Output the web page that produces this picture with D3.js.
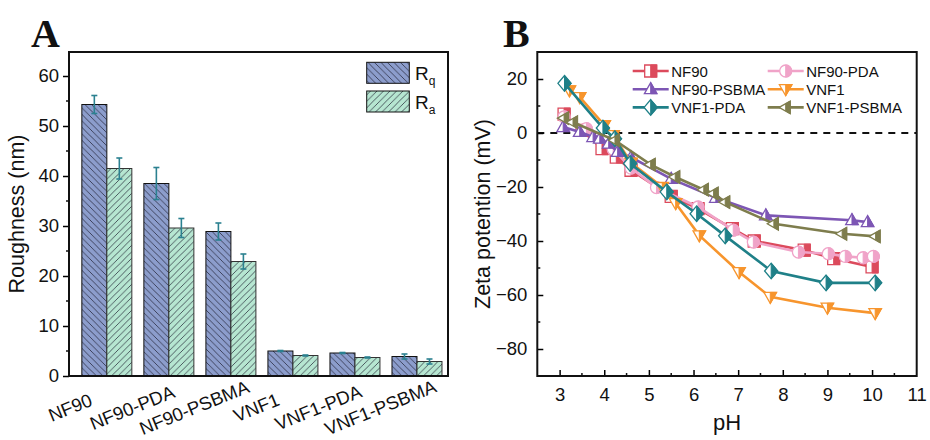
<!DOCTYPE html>
<html><head><meta charset="utf-8">
<script src="https://cdn.jsdelivr.net/npm/d3@7"></script>
<style>
html,body{margin:0;padding:0;background:#fff;}
svg{display:block;font-family:"Liberation Sans",Arial,sans-serif;}
</style></head>
<body>
<svg id="chart" width="930" height="440"></svg>
<script>
// ---------- Panel A data ----------
const categories = ["NF90","NF90-PDA","NF90-PSBMA","VNF1","VNF1-PDA","VNF1-PSBMA"];
const rqValues = [54.3, 38.5, 28.9, 5.0, 4.6, 3.9];
const rqErrors = [1.8, 3.2, 1.7, 0.1, 0.1, 0.5];
const raValues = [41.5, 29.6, 22.9, 4.1, 3.7, 2.9];
const raErrors = [2.1, 1.9, 1.5, 0.1, 0.1, 0.5];
const yTicksA = [0,10,20,30,40,50,60];

// ---------- Panel B data ----------
const seriesNames = ["NF90","NF90-PDA","NF90-PSBMA","VNF1","VNF1-PDA","VNF1-PSBMA"];
const nf90 = [[3.1,7],[3.5,1],[3.95,-5.8],[4.27,-8.9],[4.6,-13.8],[5.5,-23.5],[6.1,-28],[6.87,-35.4],[7.36,-40],[8.48,-43.4],[9.14,-46.5],[10.0,-49.6]];
const nf90pda = [[3.1,6],[3.6,1.6],[4.2,-6],[4.6,-13],[5.17,-20.2],[6.1,-27.4],[6.89,-36],[7.34,-40.4],[8.35,-44.1],[9.02,-44.7],[9.4,-45.7],[9.8,-46.2],[10.03,-45.7]];
const nf90psbma = [[3.08,2.2],[3.45,0.4],[3.75,-1.5],[3.9,-2.1],[4.1,-3.9],[4.3,-7],[4.6,-9],[5.5,-17],[6.5,-24],[7.62,-30.5],[9.55,-32.3],[9.9,-33]];
const vnf1 = [[3.22,15.8],[3.45,13.3],[4.0,2.9],[4.2,-0.8],[4.6,-11],[5.3,-20],[5.6,-26],[6.13,-37.9],[7.02,-51.5],[7.72,-60.7],[9.0,-64.7],[10.07,-66.7]];
const vnf1pda = [[3.11,18.4],[3.97,1.85],[4.24,-2.1],[4.58,-11.3],[5.4,-21.8],[6.07,-29.9],[6.71,-38.1],[7.74,-51.1],[8.97,-55.5],[10.07,-55.5]];
const vnf1psbma = [[3.1,5.5],[3.3,4],[4.24,-2.7],[5.04,-11.7],[5.59,-16.3],[6.23,-21],[6.45,-22.4],[6.71,-25.6],[7.8,-33.6],[9.33,-37.3],[10.08,-38.3]];
const seriesData = [nf90, nf90pda, nf90psbma, vnf1, vnf1pda, vnf1psbma];
const seriesColors = ["#dc4a5c","#f0a3c8","#7d56b4","#f7952d","#1f8088","#7e7d4d"];
const seriesShapes = ["square","circle","triUp","triDown","diamond","triLeft"];
const xTicksB = [3,4,5,6,7,8,9,10,11];
const yTicksB = [-80,-60,-40,-20,0,20];

const svg = d3.select("#chart");
const defs = svg.append("defs");

function hatch(id, bg, dir){
  const p = defs.append("pattern").attr("id",id).attr("patternUnits","userSpaceOnUse")
    .attr("width",6.5).attr("height",6.5);
  p.append("rect").attr("width",6.5).attr("height",6.5).attr("fill",bg);
  const s = 6.5;
  const d = dir>0 ? `M0,${s} L${s},0 M-1,1 L1,-1 M${s-1},${s+1} L${s+1},${s-1}` : `M0,0 L${s},${s} M-1,${s-1} L1,${s+1} M${s-1},-1 L${s+1},1`;
  p.append("path").attr("d",d).attr("stroke","#1a1a2a").attr("stroke-width",0.8).attr("opacity",0.85);
}
hatch("hRq","#8c9dcc",-1);
hatch("hRa","#b6e6d1",1);

// ================= PANEL A =================
const xA = d3.scaleLinear().domain([0.39, 6.5]).range([69, 448]);
const yA = d3.scaleLinear().domain([0, 64.8]).range([376, 52]);
const bw = 0.403;
const gA = svg.append("g");

categories.forEach((c,i)=>{
  const k = i+1;
  gA.append("rect").attr("x",xA(k-bw)).attr("y",yA(rqValues[i]))
    .attr("width",xA(k)-xA(k-bw)).attr("height",yA(0)-yA(rqValues[i]))
    .attr("fill","url(#hRq)").attr("stroke","#111").attr("stroke-width",1);
  gA.append("rect").attr("x",xA(k)).attr("y",yA(raValues[i]))
    .attr("width",xA(k+bw)-xA(k)).attr("height",yA(0)-yA(raValues[i]))
    .attr("fill","url(#hRa)").attr("stroke","#333").attr("stroke-width",1);
});
function errBar(cx, v, e){
  const g = gA.append("g").attr("stroke","#2b8190").attr("stroke-width",1.6);
  g.append("line").attr("x1",cx).attr("x2",cx).attr("y1",yA(v+e)).attr("y2",yA(v-e));
  g.append("line").attr("x1",cx-3).attr("x2",cx+3).attr("y1",yA(v+e)).attr("y2",yA(v+e));
  g.append("line").attr("x1",cx-3).attr("x2",cx+3).attr("y1",yA(v-e)).attr("y2",yA(v-e));
}
categories.forEach((c,i)=>{
  const k=i+1;
  errBar(xA(k-bw/2), rqValues[i], rqErrors[i]);
  errBar(xA(k+bw/2), raValues[i], raErrors[i]);
});

// axes A
const axA = gA.append("g").attr("transform",`translate(${xA.range()[0]},0)`)
  .call(d3.axisLeft(yA).tickValues(yTicksA).tickSize(6).tickPadding(4));
axA.selectAll("text").attr("font-size",18.5).attr("fill","#111");
axA.select(".domain").remove();
axA.selectAll(".tick line").attr("stroke-width",1.5);
const minorA = [5,15,25,35,45,55];
gA.append("g").selectAll("line").data(minorA).join("line")
  .attr("x1",xA.range()[0]-3).attr("x2",xA.range()[0]).attr("y1",d=>yA(d)).attr("y2",d=>yA(d))
  .attr("stroke","#111").attr("stroke-width",1.5);
gA.append("rect").attr("x",xA.range()[0]).attr("y",yA.range()[1])
  .attr("width",xA.range()[1]-xA.range()[0]).attr("height",yA.range()[0]-yA.range()[1])
  .attr("fill","none").attr("stroke","#111").attr("stroke-width",2);

// x category labels
categories.forEach((c,i)=>{
  const cx = xA(i+1)-36, cy = 409;
  gA.append("text").attr("x",cx).attr("y",cy).attr("text-anchor","middle")
    .attr("dominant-baseline","middle").attr("font-size",18.5).attr("fill","#111")
    .attr("transform",`rotate(-22,${cx},${cy})`).text(c);
});
gA.append("text").attr("transform",`translate(24,${(yA.range()[0]+yA.range()[1])/2}) rotate(-90)`)
  .attr("text-anchor","middle").attr("font-size",21.5).attr("fill","#111").text("Roughness (nm)");
svg.append("text").attr("x",31).attr("y",47).attr("font-family","Liberation Serif, Times New Roman, serif")
  .attr("font-weight","bold").attr("font-size",40).attr("fill","#111").text("A");

// legend A
const legA = [["url(#hRq)","q"],["url(#hRa)","a"]];
legA.forEach((d,i)=>{
  const y0 = 62.3 + i*28.7;
  gA.append("rect").attr("x",366.7).attr("y",y0).attr("width",42.6).attr("height",21)
    .attr("fill",d[0]).attr("stroke","#111").attr("stroke-width",1);
  const t = gA.append("text").attr("x",415).attr("y",y0+18).attr("font-size",19).attr("fill","#111");
  t.append("tspan").text("R");
  t.append("tspan").attr("font-size",12).attr("dy",5).text(d[1]);
});

// ================= PANEL B =================
const xB = d3.scaleLinear().domain([2.5, 11]).range([537.3, 916.7]);
const yB = d3.scaleLinear().domain([-90, 30]).range([376, 52]);
const gB = svg.append("g");

gB.append("line").attr("x1",xB(2.5)).attr("x2",xB(11)).attr("y1",yB(0)).attr("y2",yB(0))
  .attr("stroke","#111").attr("stroke-width",2).attr("stroke-dasharray","7,6");

function shapePaths(shape, r){
  switch(shape){
    case "square": return [`M${-r},${-r}H${r}V${r}H${-r}Z`, `M0,${-r}H${r}V${r}H0Z`];
    case "circle": return [`M${-r},0A${r},${r} 0 1,1 ${r},0A${r},${r} 0 1,1 ${-r},0Z`, `M0,${-r}A${r},${r} 0 0,1 0,${r}Z`];
    case "triUp": return [`M0,${-r*1.1}L${r*1.05},${r*0.75}L${-r*1.05},${r*0.75}Z`, `M0,${-r*1.1}L${r*1.05},${r*0.75}L0,${r*0.75}Z`];
    case "triDown": return [`M0,${r*1.1}L${r*1.05},${-r*0.75}L${-r*1.05},${-r*0.75}Z`, `M0,${r*1.1}L${r*1.05},${-r*0.75}L0,${-r*0.75}Z`];
    case "diamond": return [`M0,${-r*1.3}L${r*1.1},0L0,${r*1.3}L${-r*1.1},0Z`, `M0,${-r*1.3}L${r*1.1},0L0,${r*1.3}Z`];
    case "triLeft": return [`M${-r*1.1},0L${r*0.75},${-r*1.05}L${r*0.75},${r*1.05}Z`, `M0,${-r*0.6}L${r*0.75},${-r*1.05}L${r*0.75},${r*1.05}L0,${r*0.6}Z`];
  }
}
function marker(g, x, y, shape, color, r){
  const [full, half] = shapePaths(shape, r);
  const m = g.append("g").attr("transform",`translate(${x},${y})`);
  m.append("path").attr("d",full).attr("fill","#fff").attr("stroke",color).attr("stroke-width",1.3);
  m.append("path").attr("d",half).attr("fill",color).attr("stroke",color).attr("stroke-width",1);
}
const line = d3.line().x(d=>xB(d[0])).y(d=>yB(d[1]));
seriesData.forEach((data,si)=>{
  const g = gB.append("g");
  g.append("path").attr("d",line(data)).attr("fill","none").attr("stroke",seriesColors[si]).attr("stroke-width",2.6);
  data.forEach(d=>marker(g, xB(d[0]), yB(d[1]), seriesShapes[si], seriesColors[si], 6));
});

// axes B
const axBx = gB.append("g").attr("transform",`translate(0,${yB.range()[0]})`)
  .call(d3.axisBottom(xB).tickValues(xTicksB).tickSize(-6).tickPadding(12).tickFormat(d3.format("d")));
axBx.select(".domain").remove();
axBx.selectAll("text").attr("font-size",18.5).attr("fill","#111");
axBx.selectAll(".tick line").attr("stroke-width",1.5);
axBx.selectAll(".tick").filter(d=>d===11).select("line").remove();
const axBy = gB.append("g").attr("transform",`translate(${xB.range()[0]},0)`)
  .call(d3.axisLeft(yB).tickValues(yTicksB).tickSize(-6).tickPadding(10));
axBy.select(".domain").remove();
axBy.selectAll("text").attr("font-size",18.5).attr("fill","#111");
axBy.selectAll(".tick line").attr("stroke-width",1.5);
const minorBx = [3.5,4.5,5.5,6.5,7.5,8.5,9.5,10.5];
gB.append("g").selectAll("line").data(minorBx).join("line")
  .attr("x1",d=>xB(d)).attr("x2",d=>xB(d)).attr("y1",yB.range()[0]).attr("y2",yB.range()[0]-3)
  .attr("stroke","#111").attr("stroke-width",1.5);
const minorBy = [-70,-50,-30,-10,10];
gB.append("g").selectAll("line").data(minorBy).join("line")
  .attr("x1",xB.range()[0]).attr("x2",xB.range()[0]+3).attr("y1",d=>yB(d)).attr("y2",d=>yB(d))
  .attr("stroke","#111").attr("stroke-width",1.5);
gB.append("rect").attr("x",xB.range()[0]).attr("y",yB.range()[1])
  .attr("width",xB.range()[1]-xB.range()[0]).attr("height",yB.range()[0]-yB.range()[1])
  .attr("fill","none").attr("stroke","#111").attr("stroke-width",2);

gB.append("text").attr("x",(xB.range()[0]+xB.range()[1])/2).attr("y",430).attr("text-anchor","middle")
  .attr("font-size",22).attr("fill","#111").text("pH");
gB.append("text").attr("transform",`translate(490,${(yB.range()[0]+yB.range()[1])/2}) rotate(-90)`)
  .attr("text-anchor","middle").attr("font-size",21.5).attr("fill","#111").text("Zeta potention (mV)");
svg.append("text").attr("x",503).attr("y",47).attr("font-family","Liberation Serif, Times New Roman, serif")
  .attr("font-weight","bold").attr("font-size",40).attr("fill","#111").text("B");

// legend B
seriesNames.forEach((n,i)=>{
  const col = i%2, row = Math.floor(i/2);
  const x0 = col===0 ? 632.7 : 767.7;
  const y0 = 71 + row*18.2;
  const g = gB.append("g");
  g.append("line").attr("x1",x0).attr("x2",x0+36).attr("y1",y0).attr("y2",y0)
    .attr("stroke",seriesColors[i]).attr("stroke-width",2.6);
  marker(g, x0+18, y0, seriesShapes[i], seriesColors[i], 6);
  g.append("text").attr("x",x0+38.5).attr("y",y0+5.5).attr("font-size",15).attr("fill","#111").text(n);
});
</script>
</body></html>
